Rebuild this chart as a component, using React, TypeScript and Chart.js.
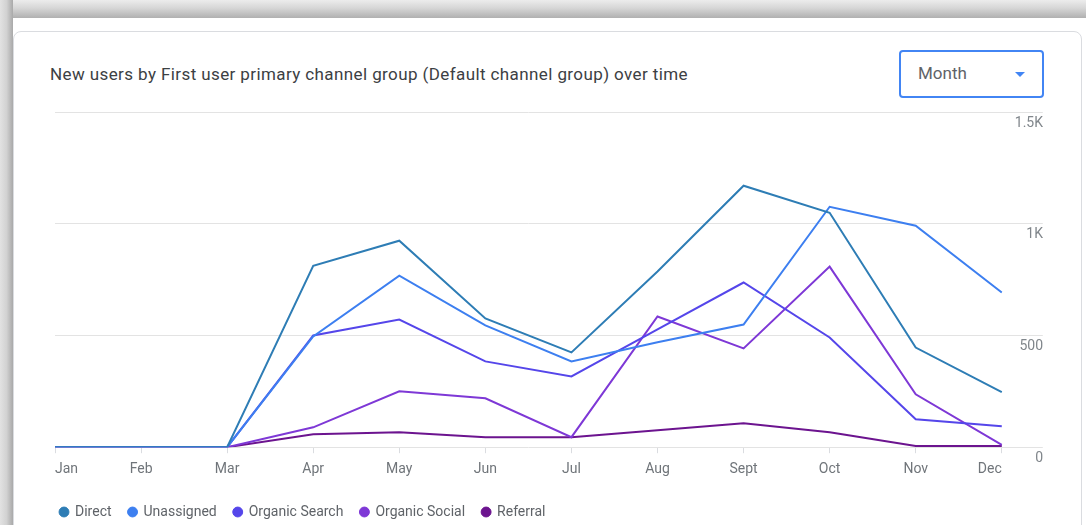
import React, { useEffect, useRef } from "react";
import { Chart, registerables } from "chart.js";

Chart.register(...registerables);

const months = ["Jan", "Feb", "Mar", "Apr", "May", "Jun", "Jul", "Aug", "Sept", "Oct", "Nov", "Dec"];
const direct = [0, 0, 0, 812, 924, 576, 424, 786, 1170, 1049, 446, 246];
const unassigned = [0, 0, 0, 496, 768, 545, 384, 470, 549, 1076, 991, 692];
const organicSearch = [0, 0, 0, 500, 571, 384, 317, 527, 737, 491, 125, 94];
const organicSocial = [0, 0, 0, 89, 250, 219, 45, 585, 442, 808, 237, 10];
const referral = [0, 0, 0, 58, 67, 45, 45, 76, 107, 67, 5, 5];

const seriesNames = ["Direct", "Unassigned", "Organic Search", "Organic Social", "Referral"];
const seriesColors = ["#2e7db5", "#3d7ff0", "#5546ea", "#7e38d6", "#6c148f"];
const yTickValues = [0, 500, 1000, 1500];
const yTickLabels = ["0", "500", "1K", "1.5K"];

const titleText = "New users by First user primary channel group (Default channel group) over time";
const dropdownText = "Month";

export default function App() {
  const canvasRef = useRef<HTMLCanvasElement | null>(null);

  useEffect(() => {
    const canvas = canvasRef.current;
    if (!canvas) return;
    const seriesValues = [direct, unassigned, organicSearch, organicSocial, referral];
    const chart = new Chart(canvas, {
      type: "line",
      data: {
        labels: months,
        datasets: seriesNames.map((name, i) => ({
          label: name,
          data: seriesValues[i],
          borderColor: seriesColors[i],
          backgroundColor: seriesColors[i],
          borderWidth: 2,
          pointRadius: 0,
          pointHoverRadius: 0,
          tension: 0,
          fill: false,
          yAxisID: "y",
        })),
      },
      options: {
        responsive: false,
        animation: false,
        layout: { padding: { left: 43, right: 43, top: 112, bottom: -4 } },
        font: { family: "Roboto" },
        plugins: {
          tooltip: { enabled: false },
          legend: {
            position: "bottom",
            align: "start",
            labels: {
              usePointStyle: true,
              pointStyle: "circle",
              boxWidth: 8,
              boxHeight: 7,
              padding: 17,
              color: "#5f6368",
              font: { size: 14, family: "Roboto" },
              generateLabels: (ch: any) => {
                const items = Chart.defaults.plugins.legend.labels.generateLabels(ch);
                return items.map((it: any) => ({ ...it, lineWidth: 1, strokeStyle: it.fillStyle }));
              },
            },
          },
        },
        scales: {
          x: {
            grid: {
              display: true,
              drawOnChartArea: false,
              drawTicks: true,
              tickLength: 6,
              color: "#dadce0",
            },
            border: { display: false },
            ticks: {
              align: "inner",
              padding: 8,
              maxRotation: 0,
              autoSkip: false,
              color: "#70757a",
              font: { size: 14, family: "Roboto" },
            },
            afterFit: (s: any) => {
              s.height += 2;
            },
          },
          y: {
            position: "right",
            min: 0,
            max: 1500,
            afterBuildTicks: (s: any) => {
              s.ticks = yTickValues.map((v) => ({ value: v }));
            },
            grid: {
              color: "#e3e3e3",
              drawTicks: true,
              tickLength: 41,
            },
            border: { display: false },
            ticks: {
              crossAlign: "far",
              padding: -14,
              labelOffset: 11,
              color: "#80868b",
              font: { size: 14, family: "Roboto" },
              callback: (v: any) => {
                const idx = yTickValues.indexOf(Number(v));
                return idx >= 0 ? yTickLabels[idx] : "";
              },
            },
          },
          yLeft: {
            position: "left",
            display: true,
            min: 0,
            max: 1500,
            grid: { display: false },
            border: { display: false },
            ticks: { display: false },
            afterFit: (s: any) => {
              s.width = 12;
            },
          },
        },
      } as any,
    });
    return () => chart.destroy();
  }, []);

  return (
    <div
      style={{
        position: "fixed",
        left: 0,
        top: 0,
        width: 1086,
        height: 525,
        overflow: "hidden",
        background: "#ffffff",
        fontFamily: "Roboto, sans-serif",
      }}
    >
      <div
        style={{
          position: "absolute",
          left: 0,
          top: 0,
          width: 1086,
          height: 18,
          background: "linear-gradient(to bottom, #ececec 0%, #d6d6d6 45%, #b0b0b0 100%)",
        }}
      />
      <div
        style={{
          position: "absolute",
          left: 0,
          top: 0,
          width: 13,
          height: 525,
          background: "linear-gradient(to right, #e2e2e2 0%, #d2d2d2 50%, #a9a9a9 100%)",
        }}
      />
      <div
        style={{
          position: "absolute",
          left: 13,
          top: 31,
          width: 1069,
          height: 600,
          border: "1px solid #dadce0",
          borderRadius: 8,
          boxSizing: "border-box",
          background: "#ffffff",
        }}
      />
      <div
        style={{
          position: "absolute",
          left: 50,
          top: 64,
          fontSize: 17,
          lineHeight: "20px",
          color: "#3c4043",
          whiteSpace: "nowrap",
          letterSpacing: "0.4px",
        }}
      >
        {titleText}
      </div>
      <div
        style={{
          position: "absolute",
          left: 899,
          top: 50,
          width: 145,
          height: 48,
          border: "2px solid #4285f4",
          borderRadius: 4,
          boxSizing: "border-box",
        }}
      >
        <div
          style={{
            position: "absolute",
            left: 17,
            top: 11,
            fontSize: 17,
            lineHeight: "20px",
            color: "#5f6368",
          }}
        >
          {dropdownText}
        </div>
        <div
          style={{
            position: "absolute",
            left: 114,
            top: 20,
            width: 0,
            height: 0,
            borderLeft: "5px solid transparent",
            borderRight: "5px solid transparent",
            borderTop: "5px solid #4285f4",
          }}
        />
      </div>
      <canvas
        ref={canvasRef}
        width={1086}
        height={525}
        style={{ position: "absolute", left: 0, top: 0, width: 1086, height: 525 }}
      />
    </div>
  );
}
